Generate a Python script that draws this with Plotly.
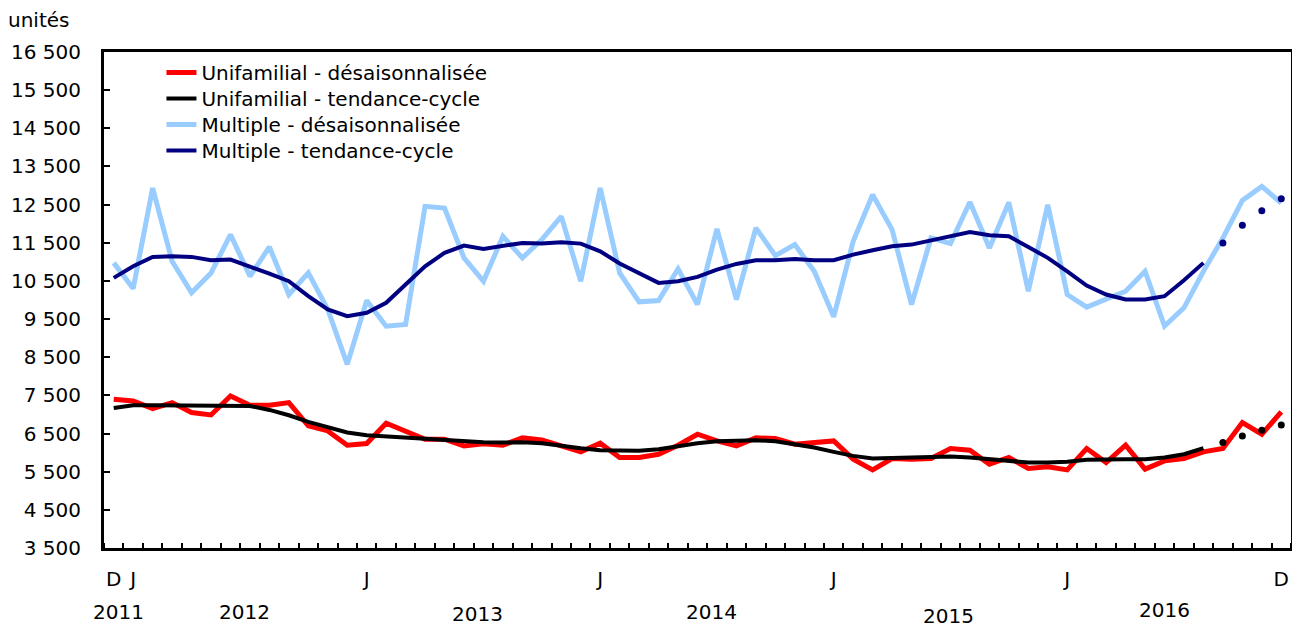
import plotly.graph_objects as go

# Months: index 0 = Dec 2011 ... 60 = Dec 2016
months = list(range(61))
month_tick_pos = [0, 1, 13, 25, 37, 49, 60]
month_tick_text = ["D", "J", "J", "J", "J", "J", "D"]
year_labels = ["2011", "2012", "2013", "2014", "2015", "2016"]

uni_sa = [7397, 7353, 7154, 7311, 7049, 6988, 7484, 7241, 7241, 7311,
          6701, 6568, 6194, 6238, 6769, 6543, 6351, 6351, 6176, 6230,
          6194, 6386, 6334, 6176, 6019, 6246, 5872, 5872, 5958, 6194,
          6482, 6307, 6176, 6386, 6369, 6220, 6264, 6307, 5828, 5548,
          5846, 5828, 5846, 6107, 6063, 5697, 5872, 5584, 5627, 5548,
          6107, 5741, 6194, 5566, 5784, 5846, 6019, 6107, 6787, 6482,
          7066]
uni_trend = [7171, 7241, 7241, 7241, 7223, 7223, 7232, 7223, 7119, 6979,
             6805, 6657, 6526, 6456, 6421, 6395, 6369, 6334, 6299, 6273,
             6264, 6273, 6246, 6194, 6116, 6063, 6046, 6046, 6089, 6176,
             6246, 6299, 6325, 6325, 6299, 6220, 6133, 6019, 5915, 5846,
             5855, 5855, 5872, 5898, 5872, 5828, 5767, 5741, 5741, 5759,
             5811, 5828, 5828, 5828, 5872, 5958, 6116, 6264, 6438, 6587,
             6726]
multi_sa = [10973, 10300, 12934, 11015, 10188, 10710, 11713, 10622, 11391, 10144,
            10710, 9751, 8313, 9987, 9315, 9359, 12454, 12411, 11104, 10492,
            11669, 11104, 11582, 12192, 10492, 12934, 10710, 9952, 9987, 10815,
            9882, 11862, 10013, 11888, 11164, 11452, 10753, 9560, 11538, 12760,
            11844, 9882, 11627, 11478, 12569, 11365, 12558, 10230, 12498, 10144,
            9812, 10031, 10230, 10753, 9315, 9795, 10753, 11627, 12610, 12976,
            12542]
multi_trend = [10580, 10885, 11130, 11146, 11130, 11041, 11059, 10885, 10693, 10492,
               10100, 9751, 9577, 9665, 9926, 10405, 10885, 11235, 11426, 11339,
               11426, 11496, 11478, 11512, 11478, 11277, 10955, 10693, 10449, 10492,
               10607, 10798, 10946, 11041, 11041, 11076, 11041, 11041, 11190, 11303,
               11408, 11452, 11565, 11669, 11783, 11695, 11669, 11391, 11104, 10753,
               10379, 10144, 10013, 10013, 10100, 10518, 10973, 11496, 11957, 12341,
               12655]
n_final = 57  # trend-cycle: last 4 months shown as dots (preliminary)

y_ticks = list(range(3500, 16501, 1000))
y_tick_text = [f"{v // 1000} {v % 1000:03d}" for v in y_ticks]

FONT = "DejaVu Sans"
RED = "#FF0000"
BLACK = "#000000"
LIGHT = "#99CCFF"
NAVY = "#000080"

fig = go.Figure()
fig.add_trace(go.Scatter(x=months, y=multi_sa, mode="lines", name="Multiple - désaisonnalisée",
                         line=dict(color=LIGHT, width=5), legend="legend3"))
fig.add_trace(go.Scatter(x=months[:n_final], y=multi_trend[:n_final], mode="lines",
                         name="Multiple - tendance-cycle", line=dict(color=NAVY, width=4),
                         legend="legend4"))
fig.add_trace(go.Scatter(x=months[n_final:], y=multi_trend[n_final:], mode="markers",
                         marker=dict(color=NAVY, size=7), showlegend=False))
fig.add_trace(go.Scatter(x=months, y=uni_sa, mode="lines", name="Unifamilial - désaisonnalisée",
                         line=dict(color=RED, width=5), legend="legend"))
fig.add_trace(go.Scatter(x=months[:n_final], y=uni_trend[:n_final], mode="lines",
                         name="Unifamilial - tendance-cycle", line=dict(color=BLACK, width=4),
                         legend="legend2"))
fig.add_trace(go.Scatter(x=months[n_final:], y=uni_trend[n_final:], mode="markers",
                         marker=dict(color=BLACK, size=7), showlegend=False))

year_x = [0.25, 6.7, 18.7, 30.7, 42.9, 54.0]
year_y = [-0.130, -0.130, -0.134, -0.130, -0.138, -0.124]
annotations = [dict(x=x, y=y, xref="x", yref="paper", text=t, showarrow=False,
                    font=dict(family=FONT, size=20, color="#000"), yanchor="middle")
               for x, y, t in zip(year_x, year_y, year_labels)]
annotations.append(dict(x=-0.0809, y=1 + (44.5 - 12.5) / 496, xref="paper", yref="paper",
                        text="unités", showarrow=False, xanchor="left", yanchor="middle",
                        xshift=-2, font=dict(family=FONT, size=20, color="#000")))


def leg(yc):
    return dict(x=0.0484, y=yc, xanchor="left", yanchor="middle",
                bgcolor="rgba(0,0,0,0)", font=dict(family=FONT, size=20, color="#000"))


fig.update_layout(
    width=1292, height=620,
    margin=dict(l=96, r=9, t=44, b=80),
    paper_bgcolor="white", plot_bgcolor="white",
    font=dict(family=FONT, size=20, color="#000"),
    showlegend=True,
    legend=leg(1 - (65 - 44.5) / 496),
    legend2=leg(1 - (91 - 44.5) / 496),
    legend3=leg(1 - (117 - 44.5) / 496),
    legend4=leg(1 - (143 - 44.5) / 496),
    annotations=annotations,
)
fig.update_xaxes(range=[-0.5, 60.5], tickvals=month_tick_pos, ticktext=month_tick_text,
                 ticks="", showgrid=False, zeroline=False, automargin=False,
                 showline=True, linecolor="#000", linewidth=3, mirror=True,
                 tickfont=dict(family=FONT, size=20), ticklabelstandoff=11,
                 minor=dict(tick0=-0.5, dtick=1, ticks="inside", ticklen=5,
                            tickcolor="#000", tickwidth=2, showgrid=False))
fig.update_yaxes(range=[3500, 16500], tickvals=y_ticks, ticktext=y_tick_text,
                 ticks="inside", ticklen=6, tickwidth=2, tickcolor="#000",
                 showgrid=False, zeroline=False, automargin=False,
                 showline=True, linecolor="#000", linewidth=3, mirror=True,
                 tickfont=dict(family=FONT, size=20), ticklabelstandoff=16)

fig.write_html("out.html")
